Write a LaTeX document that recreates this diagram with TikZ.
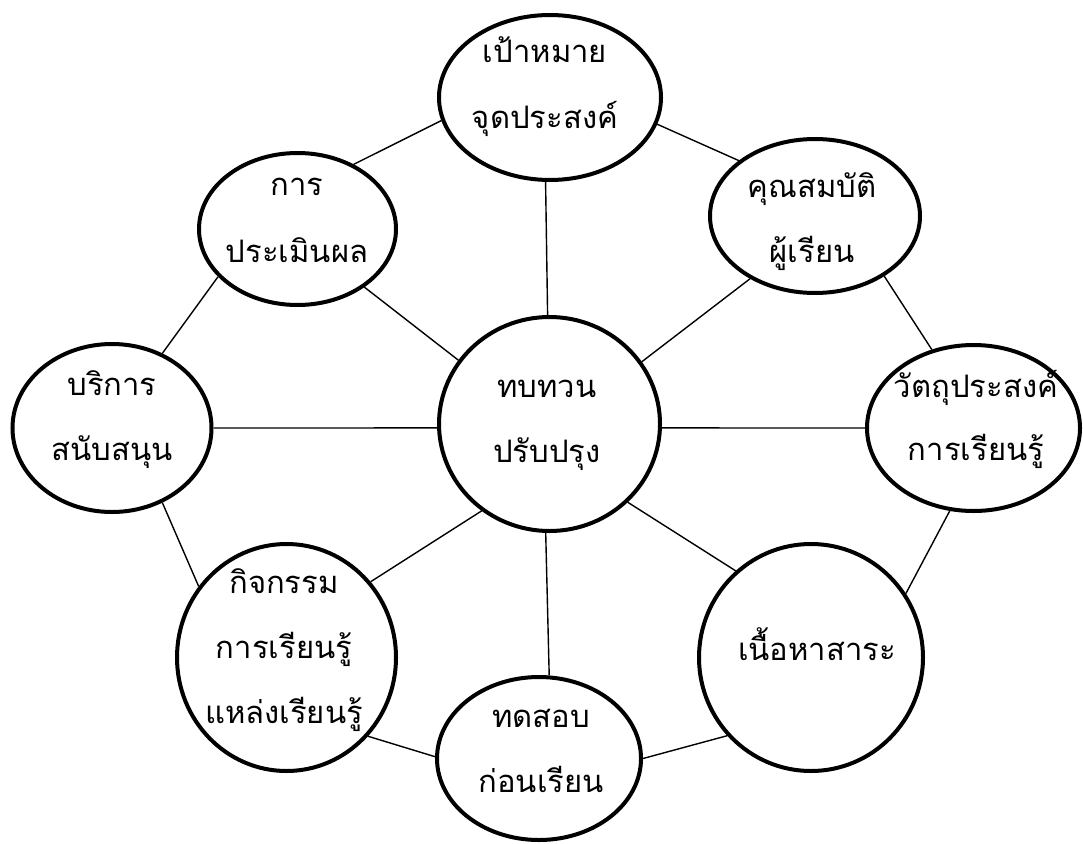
\documentclass[tikz,border=0pt]{standalone}
\usepackage{fontspec}
\newfontfamily\thaifont[Script=Thai]{Loma}
\usetikzlibrary{shapes.geometric}
\pgfdeclarelayer{bg}
\pgfsetlayers{bg,main}
\begin{document}
\begin{tikzpicture}[x=1pt,y=-1pt,
  bub/.style={ellipse, draw, line width=4pt, fill=white, inner sep=0pt},
  lbl/.style={anchor=base, inner sep=0pt, font=\thaifont\fontsize{31}{36}\selectfont},
  link/.style={line width=1.4pt}]
\useasboundingbox (0,0) rectangle (1083,843);
% ellipses
\node[bub, minimum width=222pt, minimum height=165pt] (goal) at (550,97.5) {};
\node[bub, minimum width=197pt, minimum height=152pt] (eval) at (297.5,229) {};
\node[bub, minimum width=210pt, minimum height=154pt] (qual) at (815,216) {};
\node[bub, minimum width=199pt, minimum height=168pt] (serv) at (112,428) {};
\node[bub, minimum width=221pt, minimum height=214pt] (core) at (549.5,424) {};
\node[bub, minimum width=213pt, minimum height=166pt] (obj) at (973.5,428) {};
\node[bub, minimum width=219pt, minimum height=227pt] (act) at (286.5,657.5) {};
\node[bub, minimum width=204pt, minimum height=163pt] (test) at (539,758.5) {};
\node[bub, minimum width=224pt, minimum height=227pt] (cont) at (811,657.5) {};
% texts
\node[lbl] (goal1) at (545,63) {เป้าหมาย};
\node[lbl] (goal2) at (545,128) {จุดประสงค์};
\node[lbl] (eval1) at (297,195) {การ};
\node[lbl] (eval2) at (297,262) {ประเมินผล};
\node[lbl] (qual1) at (812,197) {คุณสมบัติ};
\node[lbl] (qual2) at (812,262) {ผู้เรียน};
\node[lbl] (serv1) at (112,395) {บริการ};
\node[lbl] (serv2) at (112,460) {สนับสนุน};
\node[lbl] (core1) at (547,397) {ทบทวน};
\node[lbl] (core2) at (547,462) {ปรับปรุง};
\node[lbl] (obj1) at (976,397) {วัตถุประสงค์};
\node[lbl] (obj2) at (976,460) {การเรียนรู้};
\node[lbl] (act1) at (284,593) {กิจกรรม};
\node[lbl] (act2) at (284,658) {การเรียนรู้};
\node[lbl] (act3) at (284,723) {แหล่งเรียนรู้};
\node[lbl] (test1) at (541,727) {ทดสอบ};
\node[lbl] (test2) at (541,792) {ก่อนเรียน};
\node[lbl] (cont1) at (817,660) {เนื้อหาสาระ};
% connectors
\begin{pgfonlayer}{bg}
\fill[white] (0,0) rectangle (1083,843);
\draw[link] (core.91.8) -- (goal.267.9);
\draw[link] (core.145.3) -- (eval.319.3);
\draw[link] (core.34.7) -- (qual.224.6);
\draw[link] (core.182) -- (serv.0);
\draw[link] (core.358) -- (obj.180);
\draw[link] (core.232) -- (act.42.9);
\draw[link] (core.315.9) -- (cont.131.4);
\draw[link] (core.268.2) -- (test.83.8);
\draw[link] (eval.49.3) -- (goal.192.7);
\draw[link] (goal.346.9) -- (qual.144);
\draw[link] (qual.319.1) -- (obj.118.3);
\draw[link] (obj.254.4) -- (cont.34.8);
\draw[link] (cont.223.8) -- (test.0.8);
\draw[link] (test.179.2) -- (act.316.7);
\draw[link] (act.141) -- (serv.304.4);
\draw[link] (serv.56.8) -- (eval.211.8);
\end{pgfonlayer}
\end{tikzpicture}
\end{document}
